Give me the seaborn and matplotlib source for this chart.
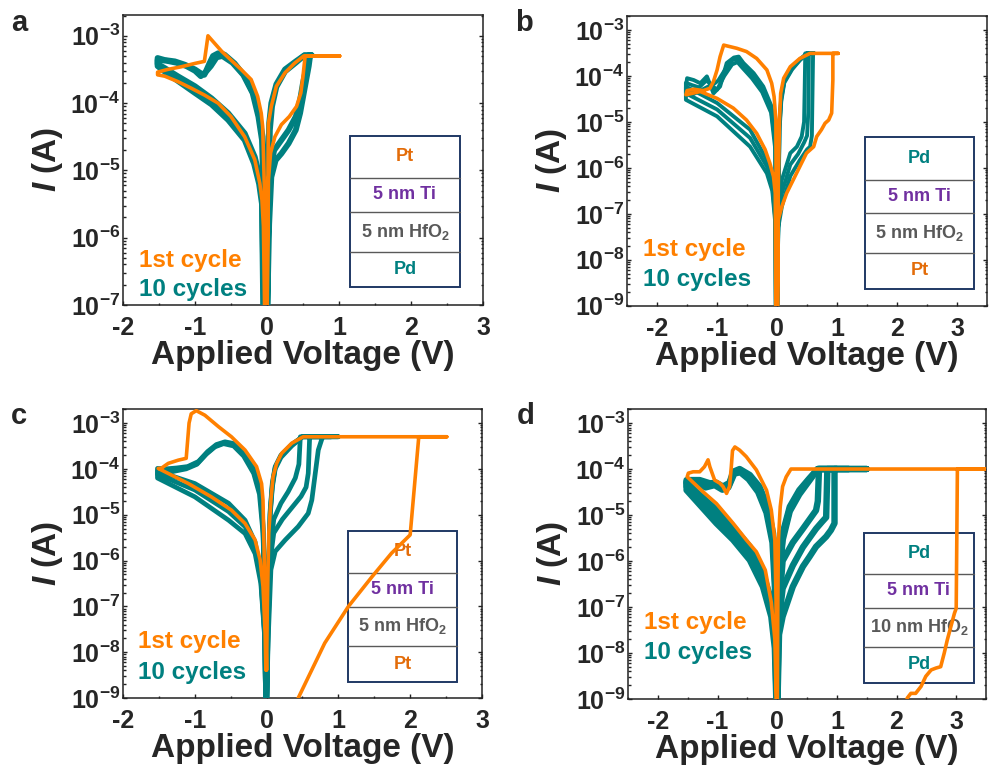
import numpy as np
import pandas as pd
import seaborn as sns
import matplotlib.pyplot as plt
from matplotlib import ticker
from matplotlib.patches import Rectangle

sns.set_theme(style="ticks")
plt.rcParams['font.family'] = ['Liberation Sans', 'DejaVu Sans']
plt.rcParams['font.weight'] = 'bold'
plt.rcParams['mathtext.fontset'] = 'custom'
plt.rcParams['mathtext.rm'] = 'Liberation Sans:bold'
plt.rcParams['mathtext.bf'] = 'Liberation Sans:bold'
plt.rcParams['mathtext.it'] = 'Liberation Sans:bold:italic'
plt.rcParams['axes.unicode_minus'] = False

ORANGE = '#FF8000'
TEAL = '#008080'
PURPLE = '#7030A0'
GREY = '#595959'
PT_TEXT = '#E36C09'
NAVY = '#1F3864'

# currents as log10(I / A)

# --- panel a: Pt / Ti / 5 nm HfO2 / Pd
a_or_v = [0.00, 0.02, 0.05, 0.11, 0.20, 0.31, 0.41, 0.47, 0.50, 0.53, 1.01, 0.51, 0.38, 0.25, 0.13, 0.06, 0.02, 0.01, 0.00,
          -0.01, -0.03, -0.06, -0.08, -0.13, -0.22, -0.36, -0.50, -0.63, -0.82, -0.87, -1.00, -1.19, -1.38, -1.52, -1.52,
          -1.42, -1.24, -1.05, -0.87, -0.68, -0.50, -0.31, -0.17, -0.10, -0.07, -0.05, -0.03]
a_or_logi = [-7.3, -5.14, -4.74, -4.5, -4.32, -4.2, -4.05, -3.85, -3.6, -3.3, -3.3, -3.3, -3.41, -3.55, -3.75, -4.05, -4.3, -5.5, -7.3,
             -7.3, -5.5, -4.35, -4.15, -3.9, -3.65, -3.5, -3.36, -3.23, -3.0, -3.38, -3.41, -3.46, -3.5, -3.54, -3.58,
             -3.6, -3.68, -3.78, -3.88, -4.0, -4.2, -4.5, -4.84, -5.19, -5.44, -5.83, -7.3]
a_te1_v = [0.00, 0.02, 0.05, 0.10, 0.20, 0.30, 0.40, 0.46, 0.50, 0.55, 0.58, 0.62, 0.52, 0.40, 0.25, 0.13, 0.06, 0.03, 0.01, 0.00,
           -0.01, -0.03, -0.06, -0.10, -0.17, -0.31, -0.45, -0.59, -0.68, -0.75, -0.80, -0.87, -0.93, -1.00, -1.14, -1.28,
           -1.42, -1.52, -1.52, -1.42, -1.24, -1.00, -0.77, -0.54, -0.31, -0.17, -0.10, -0.07, -0.04]
a_te1_logi = [-7.3, -5.6, -4.95, -4.7, -4.55, -4.4, -4.2, -3.95, -3.7, -3.45, -3.29, -3.29, -3.29, -3.38, -3.5, -3.72, -4.0, -4.3, -5.5, -7.3,
              -7.3, -5.5, -4.5, -4.25, -3.9, -3.6, -3.41, -3.28, -3.26, -3.3, -3.41, -3.58, -3.55, -3.5, -3.43, -3.38,
              -3.36, -3.33, -3.42, -3.48, -3.6, -3.75, -3.93, -4.15, -4.45, -4.8, -5.1, -5.4, -7.3]
a_te2_v = [0.00, 0.03, 0.06, 0.12, 0.20, 0.30, 0.40, 0.46, 0.52, 0.58, 0.60, 0.62, 0.52, 0.40, 0.25, 0.13, 0.07, 0.04, 0.02, 0.00,
           -0.01, -0.04, -0.07, -0.12, -0.20, -0.33, -0.48, -0.62, -0.70, -0.78, -0.86, -0.92, -1.00, -1.12, -1.26, -1.40,
           -1.52, -1.52, -1.40, -1.20, -1.00, -0.77, -0.54, -0.31, -0.18, -0.11, -0.07, -0.05]
a_te2_logi = [-7.3, -5.8, -5.1, -4.85, -4.75, -4.6, -4.4, -4.15, -3.8, -3.45, -3.29, -3.29, -3.29, -3.4, -3.53, -3.76, -4.05, -4.4, -5.6, -7.3,
              -7.3, -5.6, -4.55, -4.2, -3.85, -3.58, -3.4, -3.3, -3.32, -3.45, -3.55, -3.6, -3.52, -3.45, -3.4, -3.37,
              -3.36, -3.45, -3.55, -3.7, -3.85, -4.02, -4.25, -4.55, -4.9, -5.2, -5.5, -7.3]

# --- panel b: Pd / Ti / 5 nm HfO2 / Pt
b_or_v = [0.00, 0.02, 0.08, 0.16, 0.27, 0.38, 0.49, 0.61, 0.66, 0.74, 0.80, 0.86, 0.91, 0.93, 0.93, 1.02, 0.55, 0.38, 0.22, 0.11,
          0.06, 0.04, 0.02, 0.01, -0.01, -0.02, -0.05, -0.09, -0.17, -0.34, -0.51, -0.67, -0.89, -0.95, -1.00, -1.06,
          -1.12, -1.23, -1.39, -1.50, -1.52, -1.28, -1.00, -0.73, -0.51, -0.34, -0.20, -0.12, -0.06, -0.03, -0.02]
b_or_logi = [-9.3, -7.13, -6.84, -6.55, -6.26, -5.97, -5.68, -5.54, -5.32, -5.17, -5.03, -4.96, -4.81, -4.09, -3.51, -3.51, -3.51, -3.62, -3.8, -4.05,
             -4.38, -4.96, -6.4, -9.3, -9.3, -4.96, -4.45, -4.16, -3.87, -3.62, -3.47, -3.4, -3.33, -3.58, -3.87, -4.12,
             -4.27, -4.32, -4.29, -4.32, -4.41, -4.34, -4.49, -4.7, -4.96, -5.25, -5.6, -5.9, -6.19, -6.55, -9.3]
b_te1_v = [0.00, 0.02, 0.08, 0.22, 0.33, 0.41, 0.45, 0.46, 0.47, 0.60, 0.50, 0.38, 0.25, 0.12, 0.07, 0.04, 0.02, 0.00,
           -0.01, -0.03, -0.09, -0.23, -0.39, -0.56, -0.64, -0.72, -0.84, -0.95, -1.06, -1.17, -1.28, -1.39, -1.50,
           -1.52, -1.00, -0.45, -0.17, -0.08, -0.03, -0.02]
b_te1_logi = [-9.3, -7.0, -6.26, -5.68, -5.54, -5.32, -5.0, -4.3, -3.51, -3.51, -3.51, -3.64, -3.82, -4.1, -4.45, -5.0, -7.0, -9.3,
              -9.3, -5.3, -4.67, -4.23, -3.94, -3.72, -3.58, -3.6, -3.72, -4.23, -4.38, -4.01, -4.16, -4.09, -4.05,
              -4.23, -4.59, -5.17, -5.83, -6.3, -7.0, -9.3]
b_te2_v = [0.00, 0.02, 0.08, 0.22, 0.38, 0.50, 0.55, 0.58, 0.59, 0.60, 0.62, 0.50, 0.38, 0.25, 0.12, 0.07, 0.04, 0.02, 0.00,
           -0.01, -0.03, -0.10, -0.25, -0.42, -0.58, -0.66, -0.75, -0.88, -1.00, -1.10, -1.25, -1.40, -1.52,
           -1.52, -1.00, -0.45, -0.17, -0.08, -0.03, -0.02]
b_te2_logi = [-9.3, -7.3, -6.84, -6.18, -5.83, -5.6, -5.54, -5.3, -4.4, -3.51, -3.51, -3.51, -3.66, -3.86, -4.15, -4.55, -5.2, -7.3, -9.3,
              -9.3, -5.6, -4.8, -4.35, -4.05, -3.82, -3.7, -3.75, -4.0, -4.3, -4.2, -4.3, -4.4, -4.25,
              -4.52, -4.88, -5.54, -6.12, -6.5, -7.2, -9.3]
b_te3_v = [0.00, 0.02, 0.08, 0.22, 0.35, 0.45, 0.50, 0.52, 0.53, 0.61, 0.50, 0.38, 0.25, 0.12, 0.07, 0.04, 0.02, 0.00,
           -0.01, -0.03, -0.10, -0.24, -0.40, -0.57, -0.65, -0.74, -0.86, -0.98, -1.08, -1.18, -1.30, -1.42, -1.52,
           -1.52, -1.00, -0.45, -0.17, -0.08, -0.03, -0.02]
b_te3_logi = [-9.3, -7.15, -6.55, -5.93, -5.7, -5.45, -5.3, -4.8, -3.51, -3.51, -3.51, -3.65, -3.84, -4.12, -4.5, -5.1, -7.1, -9.3,
              -9.3, -5.45, -4.73, -4.29, -3.99, -3.77, -3.64, -3.65, -3.85, -4.1, -4.2, -4.1, -4.25, -4.2, -4.15,
              -4.38, -4.73, -5.35, -5.97, -6.4, -7.1, -9.3]

# --- panel c: Pt / Ti / 5 nm HfO2 / Pt
c_or_v = [0.40, 0.44, 0.81, 1.14, 1.47, 1.74, 2.00, 2.12, 2.51, 0.51, 0.35, 0.21, 0.14, 0.09, 0.06, 0.03, 0.01, 0.00,
          -0.02, -0.05, -0.07, -0.14, -0.30, -0.49, -0.67, -0.86, -0.98, -1.05, -1.08, -1.12, -1.23, -1.37, -1.47, -1.51,
          -1.37, -1.09, -0.77, -0.49, -0.30, -0.16, -0.09, -0.05, -0.02, -0.01]
c_or_logi = [-9.3, -9.0, -7.8, -7.0, -6.35, -5.84, -5.44, -3.3, -3.3, -3.3, -3.44, -3.66, -3.88, -4.17, -4.68, -5.4, -7.0, -8.39,
             -6.86, -4.68, -4.32, -3.95, -3.59, -3.3, -3.08, -2.83, -2.73, -2.8, -3.0, -3.77, -3.81, -3.88, -3.99, -3.99,
             -4.1, -4.32, -4.61, -4.9, -5.19, -5.55, -5.99, -6.57, -7.59, -8.39]
c_te1_v = [0.00, 0.02, 0.05, 0.10, 0.20, 0.30, 0.40, 0.45, 0.47, 1.00, 0.50, 0.35, 0.20, 0.12, 0.08, 0.05, 0.03, 0.01, 0.00,
           -0.01, -0.02, -0.05, -0.09, -0.16, -0.30, -0.45, -0.58, -0.70, -0.82, -0.95, -1.10, -1.25, -1.40, -1.52,
           -1.52, -1.00, -0.53, -0.30, -0.16, -0.08, -0.03, -0.01]
c_te1_logi = [-9.3, -7.5, -5.8, -5.1, -4.75, -4.5, -4.2, -3.9, -3.3, -3.3, -3.3, -3.47, -3.7, -3.95, -4.3, -4.9, -6.0, -7.5, -9.3,
              -9.3, -7.0, -5.2, -4.4, -4.0, -3.65, -3.45, -3.41, -3.47, -3.62, -3.84, -3.95, -3.98, -4.0, -3.99,
              -4.05, -4.32, -4.75, -5.12, -5.6, -6.3, -7.5, -9.3]
c_te2_v = [0.00, 0.02, 0.06, 0.12, 0.26, 0.44, 0.58, 0.63, 0.72, 0.78, 0.90, 0.50, 0.35, 0.20, 0.12, 0.08, 0.05, 0.03, 0.01, 0.00,
           -0.01, -0.02, -0.05, -0.10, -0.18, -0.32, -0.46, -0.60, -0.72, -0.84, -0.97, -1.12, -1.28, -1.42, -1.52,
           -1.52, -1.00, -0.53, -0.30, -0.16, -0.08, -0.03, -0.01]
c_te2_logi = [-9.3, -7.8, -6.2, -5.8, -5.55, -5.26, -4.97, -4.68, -3.59, -3.3, -3.3, -3.3, -3.5, -3.75, -4.0, -4.4, -5.0, -6.2, -7.8, -9.3,
              -9.3, -7.2, -5.4, -4.55, -4.1, -3.72, -3.5, -3.45, -3.52, -3.68, -3.9, -4.0, -4.05, -4.1, -4.1,
              -4.2, -4.61, -5.12, -5.41, -5.85, -6.5, -7.6, -9.3]
c_te3_v = [0.00, 0.02, 0.05, 0.10, 0.22, 0.35, 0.48, 0.55, 0.58, 0.60, 0.80, 0.50, 0.35, 0.20, 0.12, 0.08, 0.05, 0.03, 0.01, 0.00,
           -0.01, -0.02, -0.05, -0.09, -0.17, -0.31, -0.46, -0.59, -0.71, -0.83, -0.96, -1.11, -1.27, -1.41, -1.52,
           -1.52, -1.00, -0.53, -0.30, -0.16, -0.08, -0.03, -0.01]
c_te3_logi = [-9.3, -7.6, -6.0, -5.4, -5.1, -4.85, -4.6, -4.4, -4.1, -3.3, -3.3, -3.3, -3.48, -3.72, -3.97, -4.35, -4.95, -6.1, -7.6, -9.3,
              -9.3, -7.1, -5.3, -4.48, -4.05, -3.68, -3.47, -3.43, -3.5, -3.65, -3.87, -3.97, -4.02, -4.05, -4.05,
              -4.12, -4.46, -4.93, -5.26, -5.72, -6.4, -7.55, -9.3]

# --- panel d: Pd / Ti / 10 nm HfO2 / Pd
d_or_v = [2.12, 2.18, 2.24, 2.32, 2.41, 2.49, 2.58, 2.66, 2.74, 2.80, 2.85, 2.91, 2.97, 3.00, 3.02, 3.60, 0.23, 0.15, 0.09, 0.05,
          0.02, 0.01, 0.00, -0.01, -0.02, -0.04, -0.10, -0.18, -0.35, -0.52, -0.63, -0.71, -0.75, -0.77, -0.80, -0.85,
          -0.91, -0.96, -1.05, -1.13, -1.16, -1.22, -1.30, -1.41, -1.49, -1.51, -1.24, -1.02, -0.74, -0.52, -0.35,
          -0.20, -0.10, -0.04, -0.01]
d_or_logi = [-9.4, -8.98, -8.88, -8.88, -8.73, -8.51, -8.37, -8.33, -8.3, -8.0, -7.72, -7.43, -7.14, -7.03, -4.0, -4.0, -4.0, -4.17, -4.38, -4.82,
             -5.54, -6.85, -9.3, -9.3, -6.85, -5.54, -4.89, -4.46, -4.02, -3.73, -3.59, -3.52, -3.6, -3.95, -4.38, -4.53,
             -4.38, -4.31, -4.24, -3.95, -3.8, -3.95, -4.06, -4.06, -4.09, -4.17, -4.5, -4.75, -5.18, -5.54, -5.8,
             -6.2, -6.9, -7.7, -9.3]
d_te1_v = [0.00, 0.02, 0.09, 0.26, 0.43, 0.54, 0.65, 0.68, 0.70, 1.50, 0.68, 0.54, 0.37, 0.21, 0.09, 0.04, 0.01, 0.00,
           -0.01, -0.03, -0.07, -0.16, -0.30, -0.46, -0.63, -0.74, -0.80, -0.91, -1.02, -1.13, -1.30, -1.52,
           -1.52, -1.02, -0.74, -0.46, -0.24, -0.10, -0.03, -0.01]
d_te1_logi = [-9.3, -7.2, -6.0, -5.6, -5.3, -5.1, -4.9, -4.7, -4.0, -4.0, -4.0, -4.2, -4.46, -4.82, -5.4, -6.12, -7.5, -9.3,
              -9.3, -6.49, -5.4, -4.82, -4.38, -4.13, -4.0, -4.06, -4.3, -4.38, -4.3, -4.31, -4.24, -4.24,
              -4.3, -4.89, -5.25, -5.69, -6.27, -6.85, -7.57, -9.3]
d_te2_v = [0.00, 0.03, 0.09, 0.26, 0.43, 0.54, 0.65, 0.82, 0.90, 0.96, 0.96, 1.00, 0.68, 0.54, 0.37, 0.21, 0.09, 0.04, 0.01, 0.00,
           -0.01, -0.03, -0.08, -0.18, -0.32, -0.48, -0.62, -0.72, -0.82, -0.92, -1.05, -1.20, -1.35, -1.52,
           -1.52, -1.02, -0.74, -0.46, -0.24, -0.10, -0.04, -0.01]
d_te2_logi = [-9.3, -7.6, -7.21, -6.56, -6.12, -5.91, -5.69, -5.47, -5.33, -5.18, -4.0, -4.0, -4.0, -4.25, -4.55, -4.92, -5.55, -6.3, -7.8, -9.3,
              -9.3, -6.8, -5.6, -4.95, -4.5, -4.22, -4.07, -4.1, -4.4, -4.45, -4.35, -4.4, -4.3, -4.3,
              -4.46, -5.18, -5.54, -5.98, -6.56, -7.21, -7.9, -9.3]
d_te3_v = [0.00, 0.02, 0.09, 0.26, 0.43, 0.54, 0.65, 0.75, 0.82, 0.84, 1.20, 0.68, 0.54, 0.37, 0.21, 0.09, 0.04, 0.01, 0.00,
           -0.01, -0.03, -0.07, -0.17, -0.31, -0.47, -0.62, -0.73, -0.81, -0.92, -1.03, -1.15, -1.32, -1.52,
           -1.52, -1.02, -0.74, -0.46, -0.24, -0.10, -0.03, -0.01]
d_te3_logi = [-9.3, -7.4, -6.6, -6.1, -5.7, -5.5, -5.3, -5.15, -5.05, -4.0, -4.0, -4.0, -4.22, -4.5, -4.87, -5.47, -6.2, -7.6, -9.3,
              -9.3, -6.6, -5.5, -4.88, -4.44, -4.17, -4.03, -4.08, -4.35, -4.42, -4.33, -4.35, -4.27, -4.27,
              -4.38, -5.03, -5.4, -5.83, -6.4, -7.0, -7.7, -9.3]

# layer stacks, top to bottom
a_layers = ['Pt', '5 nm Ti', '5 nm HfO$_2$', 'Pd']
b_layers = ['Pd', '5 nm Ti', '5 nm HfO$_2$', 'Pt']
c_layers = ['Pt', '5 nm Ti', '5 nm HfO$_2$', 'Pt']
d_layers = ['Pd', '5 nm Ti', '10 nm HfO$_2$', 'Pd']
layer_colors = {'Pt': PT_TEXT, 'Pd': TEAL}


def teal_frame(loops):
    parts = []
    for k, (v, logi) in enumerate(loops):
        parts.append(pd.DataFrame({'V': v, 'I': 10.0 ** np.array(logi), 'cycle': k}))
    return pd.concat(parts, ignore_index=True)


def dec_label(y, pos):
    return r'$10^{%d}$' % int(round(np.log10(y)))


def draw_panel(ax, letter, or_v, or_logi, loops, teal_lw, xlim, ylo, layers, box, txt_y):
    df = teal_frame(loops)
    sns.lineplot(data=df, x='V', y='I', units='cycle', estimator=None, sort=False,
                 color=TEAL, lw=teal_lw, ax=ax, legend=False, zorder=3)
    sns.lineplot(x=or_v, y=10.0 ** np.array(or_logi), estimator=None, sort=False,
                 color=ORANGE, lw=2.6, ax=ax, zorder=4)
    ax.set_yscale('log')
    ax.set_xlim(*xlim)
    ax.set_ylim(ylo, 2.05e-3)

    ax.xaxis.set_major_locator(ticker.MultipleLocator(1))
    ax.xaxis.set_minor_locator(ticker.MultipleLocator(0.5))
    ax.yaxis.set_major_locator(ticker.LogLocator(base=10, numticks=15))
    ax.yaxis.set_minor_locator(ticker.LogLocator(base=10, subs=np.arange(2, 10) * 0.1, numticks=15))
    ax.yaxis.set_major_formatter(ticker.FuncFormatter(dec_label))
    ax.yaxis.set_minor_formatter(ticker.NullFormatter())
    ax.tick_params(which='both', direction='in', left=True, right=True, top=False, bottom=True,
                   width=1.0, color='#222222')
    ax.tick_params(which='major', length=3.2, labelsize=18)
    ax.tick_params(which='minor', length=1.8)
    ax.tick_params(axis='x', pad=8)
    ax.tick_params(axis='y', pad=2)
    for sp in ax.spines.values():
        sp.set_linewidth(1.1)
        sp.set_color('#222222')

    ax.set_xlabel('Applied Voltage (V)', fontsize=24, fontweight='bold', labelpad=0)
    ax.set_ylabel(r'$I$ (A)', fontsize=24, fontweight='bold', labelpad=4)

    ax.text(0.043, txt_y[0], '1st cycle', transform=ax.transAxes, color=ORANGE,
            fontsize=17.5, fontweight='bold', va='center', ha='left')
    ax.text(0.043, txt_y[1], '10 cycles', transform=ax.transAxes, color=TEAL,
            fontsize=17.5, fontweight='bold', va='center', ha='left')

    # layer stack inset
    x0, x1, y0, y1, seps = box
    edges = [y1] + seps + [y0]
    ax.add_patch(Rectangle((x0, y0), x1 - x0, y1 - y0, transform=ax.transAxes,
                           facecolor='white', edgecolor=NAVY, lw=1.4, zorder=2))
    for s in seps:
        ax.plot([x0, x1], [s, s], transform=ax.transAxes, color=GREY, lw=1.0, zorder=2.1)
    for k, name in enumerate(layers):
        if 'Ti' in name:
            col = PURPLE
        elif 'HfO' in name:
            col = GREY
        else:
            col = layer_colors[name]
        ax.text((x0 + x1) / 2, (edges[k] + edges[k + 1]) / 2, name, transform=ax.transAxes,
                color=col, fontsize=13, fontweight='bold', ha='center', va='center', zorder=2.2)

    fig = ax.figure
    pos = ax.get_position()
    fig.text(pos.x0 - 0.112, pos.y1 + 0.008, letter, fontsize=21, fontweight='bold', va='top', ha='left')


fig = plt.figure(figsize=(9.97, 7.8), dpi=100)
ax_a = fig.add_axes([0.1234, 0.609, 0.361, 0.372])
ax_b = fig.add_axes([0.629, 0.608, 0.361, 0.372])
ax_c = fig.add_axes([0.1234, 0.105, 0.360, 0.371])
ax_d = fig.add_axes([0.630, 0.104, 0.359, 0.372])

draw_panel(ax_a, 'a', a_or_v, a_or_logi, [(a_te1_v, a_te1_logi), (a_te2_v, a_te2_logi)], 4.2,
           (-2, 3), 1e-7, a_layers, (0.630, 0.936, 0.062, 0.583, [0.438, 0.321, 0.183]), (0.155, 0.052))
draw_panel(ax_b, 'b', b_or_v, b_or_logi,
           [(b_te1_v, b_te1_logi), (b_te2_v, b_te2_logi), (b_te3_v, b_te3_logi)], 2.8,
           (-2.5, 3.5), 1e-9, b_layers, (0.661, 0.964, 0.059, 0.583, [0.434, 0.321, 0.183]), (0.193, 0.090))
draw_panel(ax_c, 'c', c_or_v, c_or_logi,
           [(c_te1_v, c_te1_logi), (c_te2_v, c_te2_logi), (c_te3_v, c_te3_logi)], 3.4,
           (-2, 3), 1e-9, c_layers, (0.627, 0.930, 0.055, 0.578, [0.433, 0.315, 0.180]), (0.194, 0.087))
draw_panel(ax_d, 'd', d_or_v, d_or_logi,
           [(d_te1_v, d_te1_logi), (d_te2_v, d_te2_logi), (d_te3_v, d_te3_logi)], 4.6,
           (-2.5, 3.5), 1e-9, d_layers, (0.659, 0.966, 0.055, 0.572, [0.431, 0.314, 0.179]), (0.262, 0.159))

fig.savefig('out.png', dpi=100)
